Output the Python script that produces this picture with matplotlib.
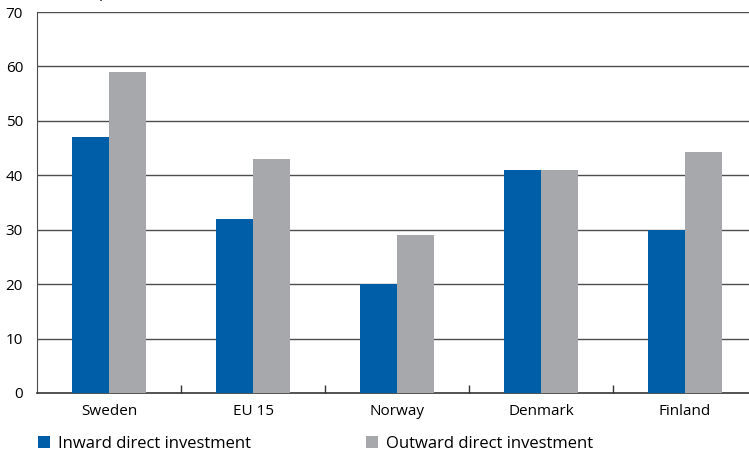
import numpy as np
import matplotlib.pyplot as plt

plt.rcParams['font.family'] = ['Open Sans', 'DejaVu Sans']

countries = ['Sweden', 'EU 15', 'Norway', 'Denmark', 'Finland']
inward = [47, 32, 20, 41, 30]
outward = [59, 43, 29, 41, 44.2]

blue = '#005ea8'
grey = '#a7a8ab'

fig = plt.figure(figsize=(7.49, 4.55), dpi=100)
ax = fig.add_axes([37/749, 62/455, 1 - 37/749, 381/455])

x = np.arange(len(countries))
w = 0.257
ax.bar(x - w/2, inward, w, color=blue, zorder=3, label='Inward direct investment')
ax.bar(x + w/2, outward, w, color=grey, zorder=3, label='Outward direct investment')

# horizontal grid, including the top line at 70
ax.set_ylim(0, 70)
ax.set_yticks(range(0, 71, 10))
for v in range(10, 71, 10):
    ax.axhline(v, color='#4d4d4d', lw=1.0, zorder=1)

ax.set_xlim(-0.5, 4.444)
ax.set_xticks(x)
ax.set_xticklabels(countries)
ax.set_xticks(x[:-1] + 0.5, minor=True)
ax.tick_params(axis='x', which='major', length=0, pad=8, labelsize=11)
ax.tick_params(axis='x', which='minor', direction='in', length=6, width=1, color='#333333')
ax.tick_params(axis='y', length=0, pad=10, labelsize=11)

for s in ['top', 'right']:
    ax.spines[s].set_visible(False)
ax.spines['left'].set_color('#4d4d4d')
ax.spines['bottom'].set_color('#333333')
ax.spines['bottom'].set_linewidth(1.2)

# unit label above the plot area, mostly outside the canvas
fig.text(50/749, 1 + 3/455, 'Share, per cent', fontsize=11, va='baseline', ha='left')

leg = ax.legend(loc='upper left', bbox_to_anchor=(-0.008, -0.095), ncol=2,
                frameon=False, fontsize=12, handlelength=0.7, handleheight=0.7,
                handletextpad=0.5, columnspacing=6.9, borderaxespad=0)

fig.savefig('out.png', dpi=100)
